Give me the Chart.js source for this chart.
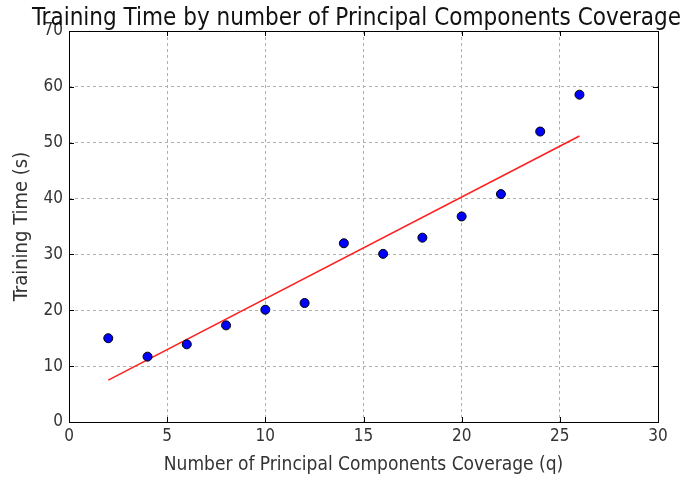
<!DOCTYPE html>
<html>
<head>
<meta charset="utf-8">
<script src="https://cdn.jsdelivr.net/npm/chart.js@4"></script>
<style>
  html, body { margin: 0; padding: 0; background: #fff; }
  #wrap { width: 682px; height: 480px; }
</style>
</head>
<body>
<div id="wrap"><canvas id="chart" width="682" height="480"></canvas></div>
<script>
const components = [2, 4, 6, 8, 10, 12, 14, 16, 18, 20, 22, 24, 26];
const trainingTime = [15.0, 11.7, 13.9, 17.3, 20.1, 21.3, 32.0, 30.1, 33.0, 36.8, 40.8, 52.0, 58.6];
const fitX = [2, 26];
const fitY = [7.5, 51.2];
const titleText = 'Training Time by number of Principal Components Coverage';

const FONT = "'DejaVu Sans Condensed', 'Liberation Sans Narrow', sans-serif";

// matplotlib-style frame with inward ticks
const framePlugin = {
  id: 'frame',
  afterDatasetsDraw(chart) {
    const { ctx, chartArea: a, scales } = chart;
    ctx.save();
    ctx.strokeStyle = '#000';
    ctx.lineWidth = 1;
    ctx.beginPath();
    scales.x.ticks.forEach(t => {
      const px = Math.round(scales.x.getPixelForValue(t.value)) + 0.5;
      ctx.moveTo(px, a.bottom); ctx.lineTo(px, a.bottom - 5);
      ctx.moveTo(px, a.top); ctx.lineTo(px, a.top + 5);
    });
    scales.y.ticks.forEach(t => {
      const py = Math.round(scales.y.getPixelForValue(t.value)) + 0.5;
      ctx.moveTo(a.left, py); ctx.lineTo(a.left + 5, py);
      ctx.moveTo(a.right, py); ctx.lineTo(a.right - 5, py);
    });
    ctx.stroke();
    ctx.strokeRect(Math.round(a.left) + 0.5, Math.round(a.top) + 0.5,
      Math.round(a.right - a.left), Math.round(a.bottom - a.top));
    ctx.fillStyle = '#111';
    ctx.font = '24px ' + FONT;
    ctx.textAlign = 'center';
    ctx.textBaseline = 'alphabetic';
    ctx.fillText(titleText, (a.left + a.right) / 2 - 7, a.top - 6);
    ctx.restore();
  }
};

new Chart(document.getElementById('chart').getContext('2d'), {
  type: 'scatter',
  data: {
    datasets: [
      {
        label: 'Training Time',
        data: components.map((x, i) => ({ x, y: trainingTime[i] })),
        backgroundColor: '#0000ff',
        borderColor: '#000',
        borderWidth: 1,
        pointRadius: 4.5,
        order: 0,
      },
      {
        label: 'Fit',
        type: 'line',
        data: fitX.map((x, i) => ({ x, y: fitY[i] })),
        borderColor: '#ff2020',
        borderWidth: 1.6,
        pointRadius: 0,
        fill: false,
        order: 1,
      }
    ]
  },
  options: {
    responsive: false,
    animation: false,
    layout: { padding: { top: 31, right: 24, left: 0, bottom: 0 } },
    plugins: {
      legend: { display: false },
      title: { display: false },
      tooltip: { enabled: false }
    },
    scales: {
      x: {
        min: 0, max: 30,
        ticks: { stepSize: 5, color: '#333', font: { family: FONT, size: 17 }, padding: 4 },
        grid: { color: '#b0b0b0', drawTicks: false },
        border: { display: false, dash: [3, 3] },
        title: { display: true, text: 'Number of Principal Components Coverage (q)', color: '#333', font: { family: FONT, size: 19 }, padding: { top: 0, bottom: 4 } },
        afterFit(scale) { scale.height = 58; }
      },
      y: {
        min: 0, max: 70,
        ticks: { stepSize: 10, color: '#333', font: { family: FONT, size: 17 }, padding: 6 },
        grid: { color: '#b0b0b0', drawTicks: false },
        border: { display: false, dash: [3, 3] },
        title: { display: true, text: 'Training Time (s)', color: '#333', font: { family: FONT, size: 20 }, padding: { top: 10, bottom: 0 } },
        afterFit(scale) { scale.width = 69; }
      }
    }
  },
  plugins: [framePlugin]
});
</script>
</body>
</html>
